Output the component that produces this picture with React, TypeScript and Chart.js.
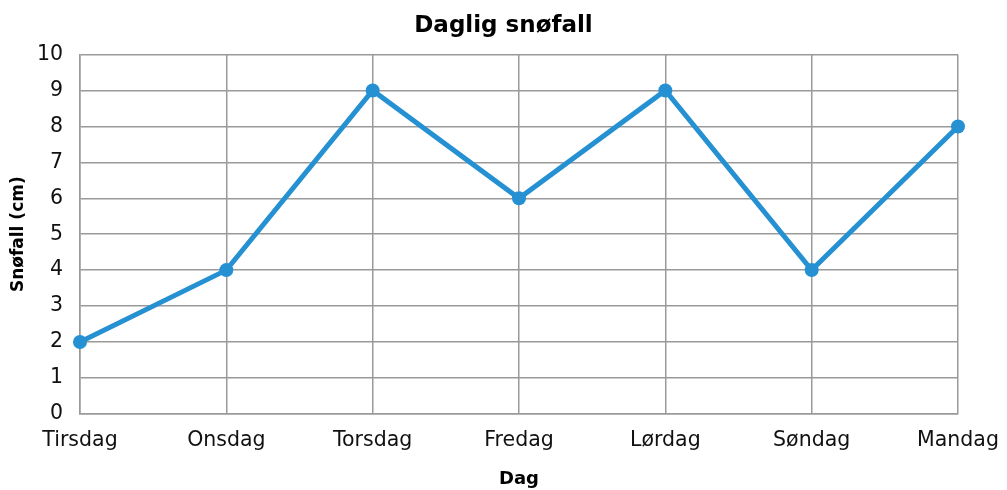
import React, { useEffect, useRef } from "react";
import { Chart, registerables } from "chart.js";

Chart.register(...registerables);

const categories = ["Tirsdag", "Onsdag", "Torsdag", "Fredag", "Lørdag", "Søndag", "Mandag"];
const snowfall = [2, 4, 9, 6, 9, 4, 8];
const titleText = "Daglig snøfall";
const xTitle = "Dag";
const yTitle = "Snøfall (cm)";

const FONT = "'DejaVu Sans', 'Open Sans', sans-serif";
const LINE_COLOR = "rgb(38,145,210)";
const GRID_COLOR = "#9a9a9a";

export default function App() {
  const ref = useRef<HTMLCanvasElement | null>(null);
  useEffect(() => {
    if (!ref.current) return;
    const chart = new Chart(ref.current, {
      type: "line",
      data: {
        labels: categories,
        datasets: [
          {
            data: snowfall,
            borderColor: LINE_COLOR,
            backgroundColor: LINE_COLOR,
            borderWidth: 5,
            pointRadius: 7,
            pointBackgroundColor: LINE_COLOR,
            pointBorderColor: LINE_COLOR,
            pointBorderWidth: 0,
            tension: 0,
            clip: false,
          },
        ],
      },
      options: {
        responsive: false,
        animation: false,
        devicePixelRatio: 1,
        layout: { padding: { left: 0, right: 0, top: 12, bottom: 0 } },
        plugins: {
          legend: { display: false },
          tooltip: { enabled: false },
          title: {
            display: true,
            text: titleText,
            color: "#000",
            font: { family: FONT, size: 23, weight: "bold" },
            padding: { top: 0, bottom: 15 },
          },
        },
        scales: {
          x: {
            offset: false,
            afterFit: (scale: any) => {
              scale.paddingRight = 49;
            },
            grid: { color: GRID_COLOR, lineWidth: 1.5, drawTicks: false },
            border: { color: GRID_COLOR, width: 1.5 },
            ticks: {
              color: "#111",
              font: { family: FONT, size: 20.5 },
              padding: 15,
              maxRotation: 0,
              autoSkip: false,
            },
            title: {
              display: true,
              text: xTitle,
              color: "#000",
              font: { family: FONT, size: 18, weight: "bold" },
              padding: { top: 0, bottom: 0 },
            },
          },
          y: {
            min: 0,
            max: 10,
            afterFit: (scale: any) => {
              scale.width = 80;
            },
            grid: { color: GRID_COLOR, lineWidth: 1.5, drawTicks: false },
            border: { color: GRID_COLOR, width: 1.5 },
            ticks: {
              stepSize: 1,
              color: "#111",
              font: { family: FONT, size: 20.5 },
              padding: 17,
            },
            title: {
              display: true,
              text: yTitle,
              color: "#000",
              font: { family: FONT, size: 17, weight: "bold" },
              padding: { top: 8, bottom: 0 },
            },
          },
        },
      },
    });
    return () => chart.destroy();
  }, []);
  return (
    <div style={{ position: "fixed", left: 0, top: 0, width: 1007, height: 490, background: "#fff" }}>
      <canvas ref={ref} width={1007} height={490} />
    </div>
  );
}
